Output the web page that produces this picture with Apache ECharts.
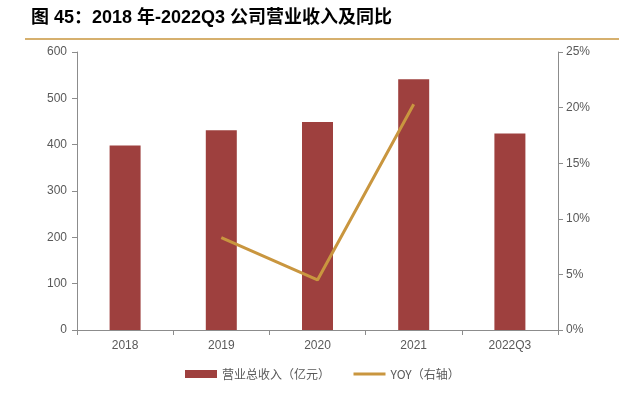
<!DOCTYPE html>
<html><head><meta charset="utf-8">
<script src="https://cdn.jsdelivr.net/npm/echarts@6/dist/echarts.min.js"></script>
<style>html,body{margin:0;padding:0;background:#fff}#c{width:619px;height:393px}</style>
</head><body><div id="c"></div>
<script>
const categories = ['2018','2019','2020','2021','2022Q3'];
const revenue = [398, 431, 449, 541, 424];
const yoy = [null, 8.3, 4.5, 20.3, null];
const leftTicks = [0, 100, 200, 300, 400, 500, 600];
const rightTicks = [0, 5, 10, 15, 20, 25];

const chart = echarts.init(document.getElementById('c'));
const axisGrey = '#8c8c8c';
const labelGrey = '#595959';
chart.setOption({
  animation: false,
  title: {
    text: '图 45：2018 年-2022Q3 公司营业收入及同比',
    left: 26, top: 4,
    textStyle: {fontFamily: 'Liberation Sans, Noto Sans CJK SC', fontWeight: 'bold', fontSize: 18, color: '#000'}
  },
  graphic: [{type: 'line', shape: {x1: 25, y1: 39, x2: 619, y2: 39}, style: {stroke: '#c8963e', lineWidth: 1.5}}],
  legend: {
    bottom: 8, left: 180,
    itemGap: 22,
    textStyle: {fontFamily: 'Noto Sans CJK SC', fontSize: 12, color: '#595959'},
    data: [
      {name: '营业总收入（亿元）', icon: 'rect'},
      {name: 'YOY（右轴）', itemStyle: {opacity: 0}, lineStyle: {width: 3, color: '#c9963f'}}
    ],
    itemWidth: 32, itemHeight: 8
  },
  grid: {left: 77, right: 61, top: 52, bottom: 63},
  xAxis: {
    type: 'category', data: categories,
    axisLine: {lineStyle: {color: axisGrey}},
    axisTick: {show: true, alignWithLabel: false, lineStyle: {color: axisGrey}},
    axisLabel: {color: labelGrey, fontSize: 12, fontFamily: 'Liberation Sans', margin: 10}
  },
  yAxis: [{
    type: 'value', min: leftTicks[0], max: leftTicks[leftTicks.length-1], interval: 100,
    axisLine: {show: true, lineStyle: {color: axisGrey}},
    axisTick: {show: true, lineStyle: {color: axisGrey}},
    splitLine: {show: false},
    axisLabel: {color: labelGrey, fontSize: 12, fontFamily: 'Liberation Sans', margin: 10}
  }, {
    type: 'value', min: rightTicks[0], max: rightTicks[rightTicks.length-1], interval: 5,
    position: 'right',
    axisLine: {show: true, lineStyle: {color: axisGrey}},
    axisTick: {show: true, lineStyle: {color: axisGrey}},
    splitLine: {show: false},
    axisLabel: {color: labelGrey, fontSize: 12, fontFamily: 'Liberation Sans', margin: 8, formatter: '{value}%'}
  }],
  series: [{
    name: '营业总收入（亿元）', type: 'bar', data: revenue, barWidth: 31,
    itemStyle: {color: '#9e403e'}
  }, {
    name: 'YOY（右轴）', type: 'line', yAxisIndex: 1, data: yoy,
    symbol: 'none', lineStyle: {color: '#c9963f', width: 3},
    itemStyle: {color: '#c9963f'}
  }]
});
</script></body></html>
